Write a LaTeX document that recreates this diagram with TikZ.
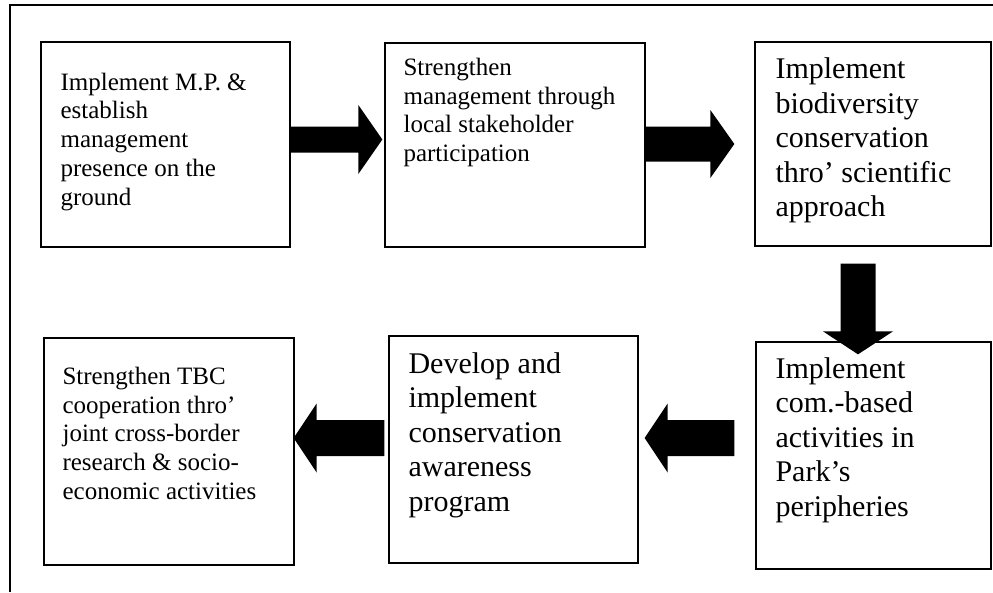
\documentclass[tikz,border=0pt]{standalone}
\usepackage{fontspec}
\setmainfont{Liberation Serif}
\usetikzlibrary{calc}
\tikzset{
 box/.style={draw, line width=1.3pt, inner sep=0pt, rectangle},
 smalltxt/.style={anchor=base west, inner sep=0pt, font=\fontsize{25}{28.75}\selectfont},
 bigtxt/.style={anchor=base west, inner sep=0pt, font=\fontsize{30}{34.5}\selectfont},
 fat/.style={fill=black, draw=none},
 frameline/.style={line width=1.8pt},
}
% right/left/down block arrows: #1 start, #2 tip, #3 shaft half width, #4 head half width, #5 head length
\newcommand\arrR[5]{\fill[fat] let \p1=(#1), \p2=(#2) in (\x1,\y2+#3) -- (\x2-#5,\y2+#3) -- (\x2-#5,\y2+#4) -- (\x2,\y2) -- (\x2-#5,\y2-#4) -- (\x2-#5,\y2-#3) -- (\x1,\y2-#3) -- cycle;}
\newcommand\arrL[5]{\fill[fat] let \p1=(#1), \p2=(#2) in (\x1,\y2+#3) -- (\x2+#5,\y2+#3) -- (\x2+#5,\y2+#4) -- (\x2,\y2) -- (\x2+#5,\y2-#4) -- (\x2+#5,\y2-#3) -- (\x1,\y2-#3) -- cycle;}
\newcommand\arrD[5]{\fill[fat] let \p1=(#1), \p2=(#2) in (\x2+#3,\y1) -- (\x2+#3,\y2+#5) -- (\x2+#4,\y2+#5) -- (\x2,\y2) -- (\x2-#4,\y2+#5) -- (\x2-#3,\y2+#5) -- (\x2-#3,\y1) -- cycle;}
\begin{document}
\begin{tikzpicture}[x=1pt,y=-1pt]
\fill[white] (0,0) rectangle (993,592);
\useasboundingbox (0,0) rectangle (993,592);
\draw[frameline] (993,5) -- (10,5) -- (10,592);

% boxes
\node[box, minimum width=249pt, minimum height=205pt] (b1) at (165.5,144.5) {};
\node[box, minimum width=260pt, minimum height=204pt] (b2) at (515,145) {};
\node[box, minimum width=236pt, minimum height=204pt] (b3) at (873,144) {};
\node[box, minimum width=235pt, minimum height=227pt] (b4) at (873.5,455.5) {};
\node[box, minimum width=249pt, minimum height=227pt] (b5) at (513.5,449.5) {};
\node[box, minimum width=250pt, minimum height=227pt] (b6) at (169,451.5) {};

% texts
\node[smalltxt] (t1) at ([xshift=20pt,yshift=-48.7pt]b1.north west) {\parbox[t]{240pt}{\raggedright Implement M.P. \&\\establish\\management\\presence on the\\ground}};
\node[smalltxt] (t2) at ([xshift=19pt,yshift=-33pt]b2.north west) {\parbox[t]{240pt}{\raggedright Strengthen\\management through\\local stakeholder\\participation}};
\node[bigtxt] (t3) at ([xshift=21pt,yshift=-37.5pt]b3.north west) {\parbox[t]{240pt}{\raggedright Implement\\biodiversity\\conservation\\thro’ scientific\\approach}};
\node[bigtxt] (t4) at ([xshift=20pt,yshift=-37pt]b4.north west) {\parbox[t]{240pt}{\raggedright Implement\\com.-based\\activities in\\Park’s\\peripheries}};
\node[bigtxt] (t5) at ([xshift=20pt,yshift=-38pt]b5.north west) {\parbox[t]{240pt}{\raggedright Develop and\\implement\\conservation\\awareness\\program}};
\node[smalltxt] (t6) at ([xshift=19pt,yshift=-47pt]b6.north west) {\parbox[t]{240pt}{\raggedright Strengthen TBC\\cooperation thro’\\joint cross-border\\research \& socio-\\economic activities}};

% arrow end points
\coordinate (a1s) at ([yshift=5pt]b1.east);
\coordinate (a1t) at ([xshift=-2pt,yshift=5.5pt]b2.west);
\coordinate (a2s) at ([yshift=1pt]b2.east);
\coordinate (a2t) at ([xshift=-20pt]b3.west);
\coordinate (a3s) at ([xshift=-15pt,yshift=-17pt]b3.south);
\coordinate (a3t) at ([xshift=-15.5pt,yshift=-13pt]b4.north);
\coordinate (a4s) at ([xshift=-21pt,yshift=17.5pt]b4.west);
\coordinate (a4t) at ([xshift=6pt,yshift=11.5pt]b5.east);
\coordinate (a5s) at ([xshift=-4pt,yshift=11.5pt]b5.west);
\coordinate (a5t) at ([xshift=-1pt,yshift=13.5pt]b6.east);

\arrR{a1s}{a1t}{13pt}{34.5pt}{24pt}
\arrR{a2s}{a2t}{17.5pt}{34pt}{24pt}
\arrD{a3s}{a3t}{17.5pt}{35pt}{23pt}
\arrL{a4s}{a4t}{18pt}{34.5pt}{23pt}
\arrL{a5s}{a5t}{18pt}{34.5pt}{23pt}
\end{tikzpicture}
\end{document}
